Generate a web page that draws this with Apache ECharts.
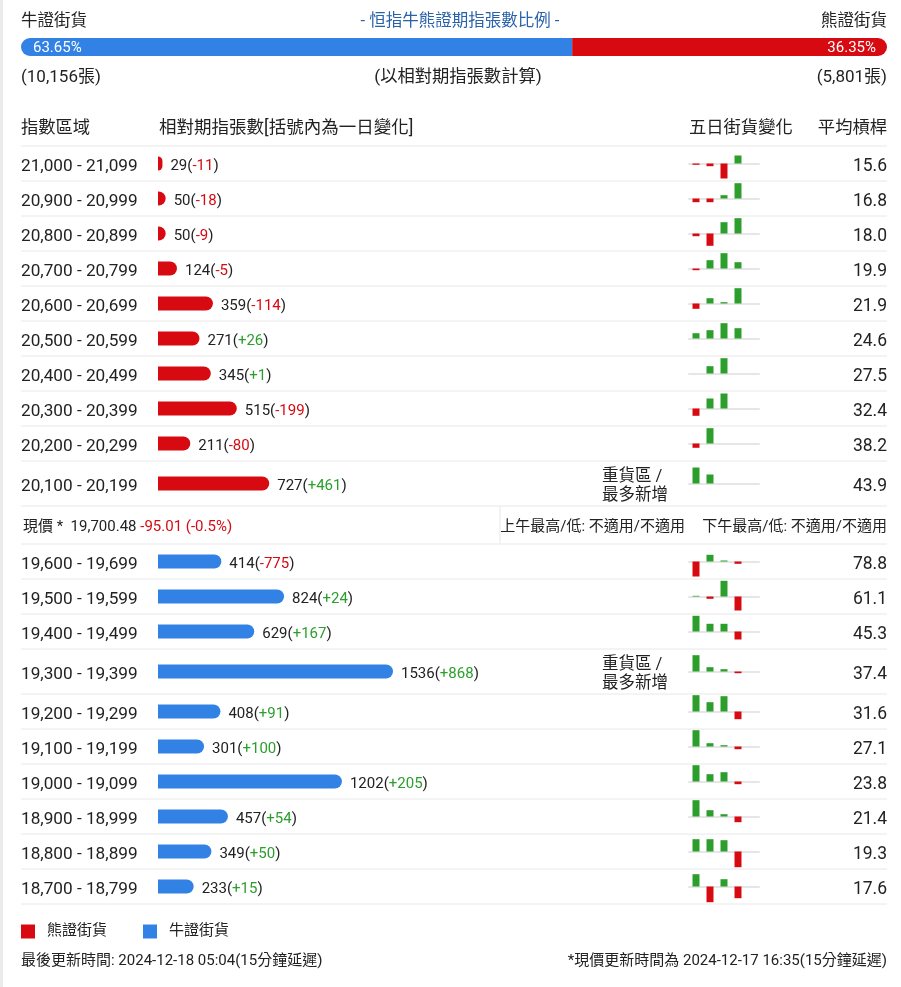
<!DOCTYPE html>
<html><head><meta charset="utf-8">
<script src="https://cdn.jsdelivr.net/npm/echarts@6/dist/echarts.min.js"></script>
<style>html,body{margin:0;padding:0;background:#fff;}#c{width:901px;height:987px;}</style>
</head><body><div id="c"></div>
<script>
// ---------- data ----------
const bullPct = 63.65, bearPct = 36.35;
const bullCount = '10,156', bearCount = '5,801';
const ranges = ['21,000 - 21,099','20,900 - 20,999','20,800 - 20,899','20,700 - 20,799','20,600 - 20,699','20,500 - 20,599','20,400 - 20,499','20,300 - 20,399','20,200 - 20,299','20,100 - 20,199',
  '19,600 - 19,699','19,500 - 19,599','19,400 - 19,499','19,300 - 19,399','19,200 - 19,299','19,100 - 19,199','19,000 - 19,099','18,900 - 18,999','18,800 - 18,899','18,700 - 18,799'];
const contracts = [29,50,50,124,359,271,345,515,211,727, 414,824,629,1536,408,301,1202,457,349,233];
const dayChange = [-11,-18,-9,-5,-114,26,1,-199,-80,461, -775,24,167,868,91,100,205,54,50,15];
const leverage = [15.6,16.8,18.0,19.9,21.9,24.6,27.5,32.4,38.2,43.9, 78.8,61.1,45.3,37.4,31.6,27.1,23.8,21.4,19.3,17.6];
const heavyRanges = ['20,100 - 20,199','19,300 - 19,399'];
// five-day change (relative bar heights), 5 day slots
const fiveDay = [
  [-1.3,-2.7,-15,8,null],[-3.7,-3.7,3.3,15.3,null],[-2.7,-12.3,11.3,15.3,null],[-1.7,8.3,15.3,6.3,null],[-5.3,5.3,1.3,15.3,null],
  [5.3,8.3,15.3,10.3,null],[null,7.3,15.3,null,null],[-7.3,10,15,null,null],[-4.3,15.3,null,null,null],[16,9,null,null,null],
  [-15,6.7,1,-2.3,null],[0.7,-2.3,15.7,-14,null],[15.7,7.7,7.7,-8,null],[16.3,4.3,2.3,-1.7,null],[16.3,9.3,15.3,-7.7,null],
  [16.3,3.3,1.3,-2.7,null],[16.3,7.3,9.3,-2.7,null],[16.3,6.3,2.3,-5.7,null],[12.3,12.3,11.3,-15.7,null],[12.3,-15.7,7.3,-11.7,null]];
const price = '19,700.48', priceChg = '-95.01', priceChgPct = '(-0.5%)';
const amText = '上午最高/低: 不適用/不適用', pmText = '下午最高/低: 不適用/不適用';
const updText = '最後更新時間: 2024-12-18 05:04(15分鐘延遲)';
const priceUpdText = '*現價更新時間為 2024-12-17 16:35(15分鐘延遲)';

// ---------- styles ----------
const F = 'Roboto, "Noto Sans CJK TC", sans-serif';
const RED = '#d60a10', BLUE = '#3282e6', GREEN = '#2b9e2b', TXT = '#222', LINE = '#e8e8e8';
const DY = 2; // text baseline nudge

// ---------- layout ----------
const tops = [], heights = [];
let y = 146;
for (let i = 0; i < 10; i++) { const h = heavyRanges.includes(ranges[i]) ? 45 : 35; tops.push(y); heights.push(h); y += h; }
const upperEnd = y; // 506
y = 544;
for (let i = 10; i < 20; i++) { const h = heavyRanges.includes(ranges[i]) ? 45 : 35; tops.push(y); heights.push(h); y += h; }
const lowerEnd = y;

const grid = [], xAxis = [], yAxis = [], series = [], graphic = [];
const txt = (text, x, yy, o = {}) => graphic.push({type:'text', z:10, style:Object.assign({text, x, y:yy + DY, fill:TXT, fontSize:16, fontFamily:F, align:'left', verticalAlign:'middle'}, o)});
const hline = (yy) => graphic.push({type:'line', z:1, shape:{x1:21, y1:yy, x2:887, y2:yy}, style:{stroke:LINE, lineWidth:1}});

// ratio bar
grid.push({left:21, top:38, width:866, height:18});
xAxis.push({type:'value', gridIndex:0, min:0, max:100, show:false});
yAxis.push({type:'category', gridIndex:0, data:['r'], show:false});
series.push({type:'bar', name:'ratioBull', xAxisIndex:0, yAxisIndex:0, stack:'r', barWidth:18, data:[bullPct],
  itemStyle:{color:BLUE, borderRadius:[9,0,0,9]}, silent:true,
  label:{show:true, position:'insideLeft', distance:12, offset:[0,1], color:'#fff', fontSize:15, fontFamily:F, formatter:()=>bullPct.toFixed(2)+'%'}});
series.push({type:'bar', name:'ratioBear', xAxisIndex:0, yAxisIndex:0, stack:'r', barWidth:18, data:[bearPct],
  itemStyle:{color:RED, borderRadius:[0,9,9,0]}, silent:true,
  label:{show:true, position:'insideRight', distance:11, offset:[0,1], color:'#fff', fontSize:15, fontFamily:F, formatter:()=>bearPct.toFixed(2)+'%'}});

ranges.forEach((r, i) => {
  const top = tops[i], h = heights[i], cy = top + h / 2;
  const up = i < 10;
  // main bar
  let gi = grid.length;
  grid.push({left:158, width:306, top:top, height:h});
  xAxis.push({type:'value', gridIndex:gi, min:0, max:2000, show:false});
  yAxis.push({type:'category', gridIndex:gi, data:[r], axisLine:{show:false}, axisTick:{show:false}, axisLabel:{show:false}});
  const chg = dayChange[i];
  series.push({type:'bar', name: up ? '熊證街貨' : '牛證街貨', xAxisIndex:gi, yAxisIndex:gi, barWidth:14,
    data:[contracts[i]], itemStyle:{color: up ? RED : BLUE, borderRadius:[0,7,7,0]},
    label:{show:true, position:'right', distance:8, offset:[0,3], fontFamily:F,
      formatter:(p)=>`{n|${p.value}(}{${chg<0?'d':'u'}|${chg>0?'+':''}${chg}}{n|)}`,
      rich:{n:{fontSize:15, color:TXT, fontFamily:F}, d:{fontSize:15, color:RED, fontFamily:F}, u:{fontSize:15, color:GREEN, fontFamily:F}}}});
  // range label
  txt(r, 21, cy + 1, {fontSize:17.2});
  // five-day mini chart
  gi = grid.length;
  grid.push({left:689, width:70, top:cy - 16.5, height:33});
  xAxis.push({type:'category', gridIndex:gi, data:['1','2','3','4','5'], axisLine:{show:true, onZero:true, lineStyle:{color:'#e6e6e6', width:2}},
    axisTick:{show:false}, axisLabel:{show:false}});
  yAxis.push({type:'value', gridIndex:gi, min:-16.5, max:16.5, show:false, splitLine:{show:false}});
  series.push({type:'bar', name:'five'+i, xAxisIndex:gi, yAxisIndex:gi, barWidth:7, data:fiveDay[i],
    itemStyle:{color:(p)=> p.value >= 0 ? GREEN : RED}, silent:true});
  // leverage
  txt(leverage[i].toFixed(1), 887, cy + 1, {align:'right', fontSize:17.5});
  if (heavyRanges.includes(r)) {
    txt('重貨區 /', 602, cy - 9, {fontSize:16.5});
    txt('最多新增', 602, cy + 10, {fontSize:16.5});
  }
});

// separators
for (let i = 0; i < 10; i++) hline(tops[i]);
hline(upperEnd);
for (let i = 10; i < 20; i++) hline(tops[i]);
hline(lowerEnd);
graphic.push({type:'line', z:1, shape:{x1:500, y1:upperEnd, x2:500, y2:544}, style:{stroke:LINE, lineWidth:1}});
graphic.push({type:'rect', z:0, shape:{x:0, y:0, width:3, height:987}, style:{fill:'#ebebeb'}});

// header texts
txt('牛證街貨', 21, 20, {fontSize:16.5});
txt('- 恒指牛熊證期指張數比例 -', 460, 20, {fontSize:16.5, align:'center', fill:'#2862ab'});
txt('熊證街貨', 887, 20, {fontSize:16.5, align:'right'});
txt('(' + bullCount + '張)', 21, 76, {fontSize:17});
txt('(以相對期指張數計算)', 458, 76, {fontSize:17.3, align:'center'});
txt('(' + bearCount + '張)', 887, 76, {fontSize:17, align:'right'});
txt('指數區域', 21, 127, {fontSize:17.3});
txt('相對期指張數[括號內為一日變化]', 159, 127, {fontSize:17.5});
txt('五日街貨變化', 689, 127, {fontSize:17.3});
txt('平均槓桿', 887, 127, {fontSize:17.3, align:'right'});

// current price row
graphic.push({type:'text', z:10, style:{x:23, y:(upperEnd+544)/2 + DY, verticalAlign:'middle', fontFamily:F, fontSize:15,
  text:`{a|現價 *  ${price} }{b|${priceChg} ${priceChgPct}}`,
  rich:{a:{fill:TXT, fontSize:15, fontFamily:F}, b:{fill:RED, fontSize:15, fontFamily:F}}}});
txt(amText, 685, (upperEnd+544)/2, {fontSize:15, align:'right'});
txt(pmText, 887, (upperEnd+544)/2, {fontSize:15, align:'right'});

// footer
txt(updText, 21, 959, {fontSize:15});
txt(priceUpdText, 887, 959, {fontSize:15, align:'right'});

const chart = echarts.init(document.getElementById('c'));
chart.setOption({
  animation:false,
  legend:{left:16, top:919, icon:'rect', itemWidth:14, itemHeight:14, itemGap:36, selectedMode:false,
    data:['熊證街貨','牛證街貨'], textStyle:{fontSize:15, color:TXT, fontFamily:F, padding:[2,0,0,7]}},
  grid, xAxis, yAxis, series, graphic
});
</script></body></html>
